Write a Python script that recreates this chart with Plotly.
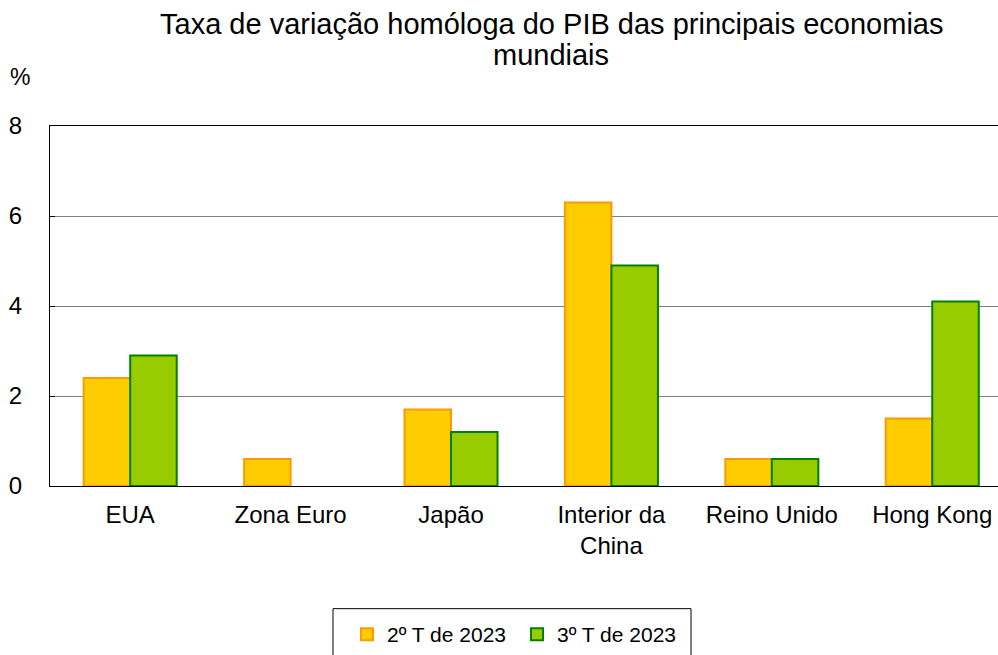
import plotly.graph_objects as go

categories = ["EUA", "Zona Euro", "Japão", "Interior da<br>China", "Reino Unido", "Hong Kong"]
q2_2023 = [2.4, 0.6, 1.7, 6.3, 0.6, 1.5]
q3_2023 = [2.9, 0.0, 1.2, 4.9, 0.6, 4.1]
series_names = ["2º T de 2023", "3º T de 2023"]
y_ticks = [0, 2, 4, 6, 8]

def outline_widths(vals):
    return [0 if v == 0 else 2 for v in vals]

fig = go.Figure()
fig.add_trace(go.Bar(
    x=categories, y=q2_2023, name=series_names[0],
    marker=dict(color="#FFCC00", line=dict(color="#FF9900", width=outline_widths(q2_2023))),
))
fig.add_trace(go.Bar(
    x=categories, y=q3_2023, name=series_names[1],
    marker=dict(color="#99CC00", line=dict(color="#008000", width=outline_widths(q3_2023))),
))

W, H = 998, 655
ML, MT, MB = 50, 126, 168
PW = W - ML
PH = H - MT - MB

def px(fx):
    return (fx - ML) / PW

def py(fy):
    return (H - MB - fy) / PH

fig.update_layout(
    width=W, height=H,
    margin=dict(l=ML, r=0, t=MT, b=MB),
    paper_bgcolor="white", plot_bgcolor="white",
    font=dict(family="Liberation Sans, Arial, sans-serif", color="black"),
    barmode="group", bargap=0.42, bargroupgap=0,
    xaxis=dict(
        range=[-0.5, 5.41],
        showline=True, linecolor="black", linewidth=1, mirror=True,
        ticks="", showgrid=False,
        tickfont=dict(size=24),
        ticklabelstandoff=7,
    ),
    yaxis=dict(
        range=[0, 8], tickvals=y_ticks,
        showline=True, linecolor="black", linewidth=1,
        ticks="inside", ticklen=5, tickcolor="black",
        showgrid=True, gridcolor="#808080", gridwidth=1,
        zeroline=False,
        tickfont=dict(size=24),
        ticklabelstandoff=22,
    ),
    legend=dict(
        orientation="h", x=px(347), xanchor="left", y=py(615), yanchor="top",
        borderwidth=0, bgcolor="rgba(0,0,0,0)",
        font=dict(size=21),
        itemwidth=30, entrywidth=125,
    ),
    shapes=[dict(
        type="rect", xref="paper", yref="paper",
        x0=px(333), x1=px(691), y0=py(610), y1=py(680),
        line=dict(color="black", width=1), fillcolor="rgba(0,0,0,0)", layer="below",
    )],
    annotations=[
        dict(text="Taxa de variação homóloga do PIB das principais economias",
             xref="paper", yref="paper", x=px(551), y=py(24),
             showarrow=False, font=dict(size=29), xanchor="center", yanchor="middle"),
        dict(text="mundiais",
             xref="paper", yref="paper", x=px(551), y=py(55),
             showarrow=False, font=dict(size=29), xanchor="center", yanchor="middle"),
        dict(text="%", xref="paper", yref="paper", x=px(20), y=py(77),
             showarrow=False, font=dict(size=23), xanchor="center", yanchor="middle"),
    ],
)

fig.write_html(
    "out.html",
    config={"displayModeBar": False},
    post_script="document.body.style.margin='0';document.body.style.overflow='hidden';",
)
